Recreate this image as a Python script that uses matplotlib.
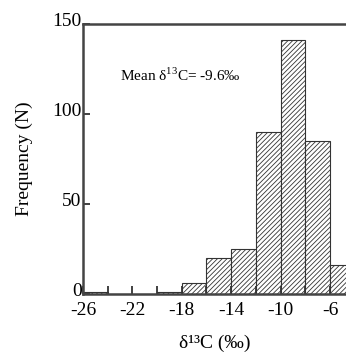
import numpy as np
import matplotlib
matplotlib.use("Agg")
import matplotlib.pyplot as plt
import matplotlib.transforms as mtransforms

plt.rcParams['font.family'] = ['Liberation Serif', 'DejaVu Serif']
plt.rcParams['axes.unicode_minus'] = False
plt.rcParams['hatch.color'] = '#555555'
plt.rcParams['hatch.linewidth'] = 0.6
plt.rcParams['mathtext.fontset'] = 'custom'
plt.rcParams['mathtext.rm'] = 'Liberation Serif'

# bin edges (permil) and counts per bin
bin_edges = [-26, -24, -22, -20, -18, -16, -14, -12, -10, -8, -6, -4]
counts = [1, 0, 0, 1, 6, 20, 25, 90, 141, 85, 16]
xtick_major = [-26, -22, -18, -14, -10, -6]
ytick_major = [0, 50, 100, 150]

fig = plt.figure(figsize=(3.46, 3.52), dpi=100)
ax = fig.add_axes([0.24, 0.165, 0.76, 0.767])

lefts = np.array(bin_edges[:-1])
widths = np.diff(bin_edges)
ax.bar(lefts, counts, width=widths, align='edge', color='white',
       edgecolor='#333333', linewidth=0.8, hatch='///////')

ax.set_xlim(-26, -4.7)
ax.set_ylim(0, 150)
ax.set_xticks(xtick_major)
ax.set_xticks(bin_edges[:-1], minor=True)
ax.set_yticks(ytick_major)
ax.tick_params(axis='both', which='both', direction='in', labelsize=14, width=1.3,
               colors='#333333', labelcolor='black')
ax.tick_params(axis='x', which='both', length=6, pad=6)
ax.tick_params(axis='y', length=5, pad=1)
for s in ['left', 'bottom', 'top']:
    ax.spines[s].set_linewidth(1.8)
    ax.spines[s].set_color('#444444')
ax.spines['right'].set_visible(False)

# y labels sit a little above their ticks
shift = mtransforms.ScaledTranslation(0, 4 / 100, fig.dpi_scale_trans)
for lab in ax.get_yticklabels():
    lab.set_transform(lab.get_transform() + shift)

ax.set_ylabel('Frequency (N)', fontsize=14, labelpad=14)
ax.set_xlabel('δ¹³C (‰)', fontsize=14, labelpad=11)
ax.text(-23.0, 121.7, 'Mean δ$^{13}$C= -9.6‰', fontsize=11, va='center', ha='left')

fig.savefig('out.png', dpi=100)
